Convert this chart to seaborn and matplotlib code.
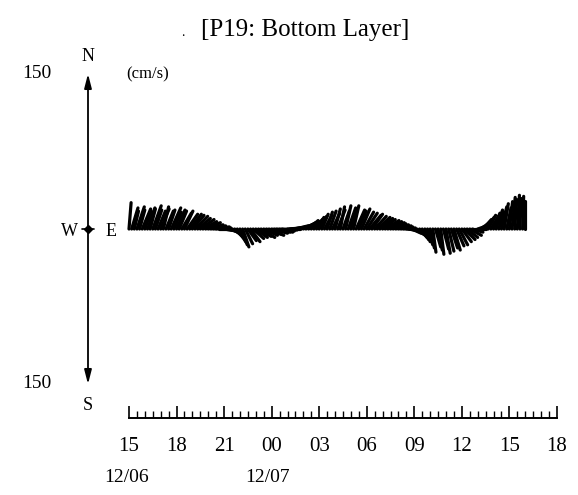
import numpy as np
import pandas as pd
import matplotlib
matplotlib.use("Agg")
import matplotlib.pyplot as plt
import seaborn as sns

# ---------------- data ----------------
# current vectors every 10 minutes starting 12/06 15:00 (one row = one hour)
sample_minutes = 10
east_u = [2, 6, 4, 7, 5, 8,
          6, 7, 5, 8, 6, 7,
          8, 5, 7, 6, 9, 7,
          8, 7, 9, 8, 10, 11,
          11, 12, 12, 13, 13, 14,
          14, 14, 15, 14, 13, 13,
          12, 12, 11, 10, 9, 8,
          7, 6, 7, 8, 9, 10,
          11, 12, 13, 13, 14, 14,
          15, 15, 15, 14, 14, 14,
          14, 13, 13, 12, 12, 11,
          10, 9, 9, 8, 8, 7,
          7, 6, 7, 5, 6, 7,
          5, 7, 4, 6, 5, 7,
          6, 5, 8, 7, 8, 9,
          10, 11, 10, 11, 12, 12,
          12, 13, 13, 13, 12, 12,
          12, 11, 11, 10, 10, 9,
          9, 8, 7, 6, 5, 5,
          4, 3, 5, 4, 3, 5,
          4, 5, 6, 6, 7, 8,
          9, 10, 10, 11, 10, 10,
          9, 9, 8, 8, 7, 7,
          6, 6, 5, 5, 4, 4,
          3, 3, 2, 2, 1, 1,
          0]
north_v = [25, 20, 17, 21, 18, 19,
           17, 20, 19, 22, 18, 17,
           19, 21, 17, 18, 20, 16,
           18, 17, 15, 17, 14, 14,
           13, 12, 10, 9, 7, 6,
           4, 3, 2, 1, 0, -1,
           -2, -2, -4, -6, -9, -12,
           -15, -17, -14, -11, -12, -9,
           -8, -7, -8, -6, -5, -6,
           -4, -3, -3, -2, -1, 0,
           1, 1, 2, 3, 3, 4,
           5, 6, 8, 7, 9, 11,
           12, 14, 13, 16, 17, 15,
           19, 18, 21, 17, 22, 20,
           19, 22, 18, 17, 19, 16,
           15, 13, 14, 12, 11, 10,
           9, 8, 7, 6, 5, 4,
           3, 2, 1, -1, -2, -4,
           -5, -6, -8, -10, -12, -15,
           -18, -22, -17, -20, -24, -19,
           -23, -21, -18, -20, -16, -15,
           -12, -10, -8, -6, -3, 0,
           3, 6, 9, 11, 13, 12,
           15, 18, 16, 21, 24, 20,
           26, 30, 28, 32, 29, 31,
           27]
tick_hours = [0, 3, 6, 9, 12, 15, 18, 21, 24, 27]
tick_labels = ["15", "18", "21", "00", "03", "06", "09", "12", "15", "18"]
date_labels = ["12/06", "12/07"]
scale_max = 150
title = "[P19: Bottom Layer]"

# ---------------- figure ----------------
W, H = 578, 495
sns.set_theme(style="white")
plt.rcParams["font.family"] = ["Liberation Serif", "DejaVu Serif"]

fig = plt.figure(figsize=(W / 100, H / 100), dpi=100)
ax = fig.add_axes([0, 0, 1, 1])
ax.set_facecolor("white")

px_per_hr = 15.85
px_per_unit = 1.053
x0_px, y0_px = 129, 229  # pixel location of (0 h, 0 cm/s)
xlim = (-x0_px / px_per_hr, (W - x0_px) / px_per_hr)
ylim = (-(H - y0_px) / px_per_unit, y0_px / px_per_unit)
ax.set_xlim(*xlim)
ax.set_ylim(*ylim)
k = px_per_unit / px_per_hr  # hours per cm/s, so sticks keep true direction

t = np.arange(len(east_u)) * sample_minutes / 60.0
u = np.array(east_u, dtype=float)
v = np.array(north_v, dtype=float)
rows = []
for i in range(len(t)):
    rows.append({"id": i, "x": t[i], "y": 0.0})
    rows.append({"id": i, "x": t[i] + u[i] * k, "y": v[i]})
df = pd.DataFrame(rows)
sns.lineplot(data=df, x="x", y="y", units="id", estimator=None, sort=False,
             color="black", lw=2.3, ax=ax, legend=False)

# ---------------- time axis ----------------
for s in ["left", "top", "right"]:
    ax.spines[s].set_visible(False)
ax.spines["bottom"].set_position(("data", -(418 - y0_px) / px_per_unit))
ax.spines["bottom"].set_bounds(tick_hours[0], tick_hours[-1])
ax.spines["bottom"].set_linewidth(1.4)
ax.spines["bottom"].set_color("black")
ax.set_xticks(tick_hours)
ax.set_xticklabels(tick_labels)
ax.set_xticks(np.arange(tick_hours[0], tick_hours[-1] + 0.01, 0.5), minor=True)
ax.tick_params(axis="x", which="major", direction="in", length=9, width=1.2,
               labelsize=15, pad=14, colors="black", bottom=True)
ax.tick_params(axis="x", which="minor", direction="in", length=5, width=1.0,
               bottom=True, colors="black")
ax.set_yticks([])
ax.set_xlabel("")
ax.set_ylabel("")

# ---------------- compass ----------------
cx = (88 - x0_px) / px_per_hr
ax.plot([cx, cx], [-scale_max + 8, scale_max - 8], color="black", lw=1.3)
ax.annotate("", xy=(cx, scale_max), xytext=(cx, scale_max - 14),
            arrowprops=dict(arrowstyle="-|>,head_length=0.7,head_width=0.18",
                            color="black", lw=1.3))
ax.annotate("", xy=(cx, -scale_max), xytext=(cx, -scale_max + 14),
            arrowprops=dict(arrowstyle="-|>,head_length=0.7,head_width=0.18",
                            color="black", lw=1.3))
ax.plot([cx - 0.35, cx + 0.35], [0, 0], color="black", lw=1.2)
ax.plot([cx], [0], marker="D", ms=4, color="black")


def ftext(x, y, s, size, **kw):
    fig.text(x / W, 1 - y / H, s, fontsize=size, ha="center", va="center",
             color="black", **kw)


ftext(88, 56, "N", 13)
ftext(88, 406, "S", 13)
ftext(69, 232, "W", 13)
ftext(111, 232, "E", 13)
ftext(37, 74, str(scale_max), 14)
ftext(37, 383, str(scale_max), 14)
ftext(148, 74, "(cm/s)", 12)
ftext(305, 30, title, 18)
ftext(183, 33, ".", 10)
ftext(127, 478, date_labels[0], 14)
ftext(268, 478, date_labels[1], 14)

fig.savefig("out.png", dpi=100, facecolor="white")
